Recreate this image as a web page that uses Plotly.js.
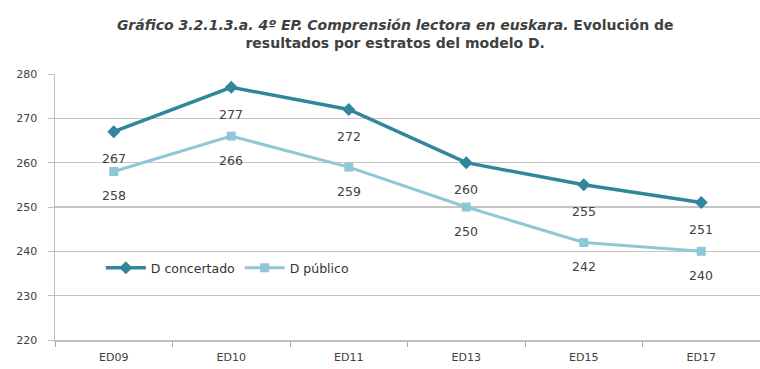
<!DOCTYPE html>
<html>
<head>
<meta charset="utf-8">
<script src="https://cdn.plot.ly/plotly-3.0.1.min.js"></script>
<style>html,body{margin:0;padding:0;background:#fff}#chart{width:760px;height:369px}</style>
</head>
<body>
<div id="chart"></div>
<script>
const categories = ["ED09", "ED10", "ED11", "ED13", "ED15", "ED17"];
const concertado = [267, 277, 272, 260, 255, 251];
const publico = [258, 266, 259, 250, 242, 240];
const seriesNames = ["D concertado", "D público"];
const yTicks = [220, 230, 240, 250, 260, 270, 280];

const cDark = "#31869C";
const cLight = "#8FC7D6";
const font = "'DejaVu Sans', 'Open Sans', sans-serif";

const traces = [
  {x: categories, y: concertado, name: seriesNames[0], type: "scatter", mode: "lines+markers",
   line: {color: cDark, width: 3.5}, marker: {symbol: "diamond", size: 10, color: cDark}},
  {x: categories, y: publico, name: seriesNames[1], type: "scatter", mode: "lines+markers",
   line: {color: cLight, width: 3}, marker: {symbol: "square", size: 9, color: cLight}}
];

const annotations = [];
[concertado, publico].forEach((arr, si) => {
  arr.forEach((v, i) => {
    annotations.push({x: categories[i], y: v, text: String(v), showarrow: false,
      yshift: si === 0 ? -27 : -24, font: {family: font, size: 12.5, color: "#404040"}});
  });
});

const layout = {
  width: 760, height: 369,
  margin: {l: 55, r: 0, t: 74, b: 29},
  paper_bgcolor: "#fff", plot_bgcolor: "#fff",
  title: {text: "<b><i>Gráfico 3.2.1.3.a. 4º EP. Comprensión lectora en euskara.</i> Evolución de</b><br><b>resultados por estratos del modelo D.</b>",
    x: 0.52, xanchor: "center", yref: "container", y: 0.92, yanchor: "middle",
    font: {family: font, size: 14, color: "#404040"}},
  xaxis: {type: "category", tickson: "boundaries", ticks: "outside", ticklen: 5, tickcolor: "#A6A6A6",
    ticklabelstandoff: 6,
    showgrid: false, showline: true, linecolor: "#BFBFBF", linewidth: 1.5,
    tickfont: {family: font, size: 11, color: "#404040"}, range: [-0.5, 5.5]},
  yaxis: {range: [220, 280], tickvals: yTicks, showgrid: true, gridcolor: "#C4C4C4", gridwidth: 1.5,
    showline: true, linecolor: "#BFBFBF", linewidth: 1.5, ticks: "outside", ticklen: 6, tickcolor: "#BFBFBF",
    ticklabelstandoff: 8,
    zeroline: false, tickfont: {family: font, size: 11, color: "#404040"}},
  legend: {orientation: "h", x: 0.065, y: 0.27, xanchor: "left", yanchor: "middle",
    bgcolor: "rgba(255,255,255,0)", font: {family: font, size: 12.5, color: "#333"}, itemwidth: 40},
  annotations: annotations,
  showlegend: true
};

Plotly.newPlot("chart", traces, layout, {displayModeBar: false, staticPlot: true});
</script>
</body>
</html>
